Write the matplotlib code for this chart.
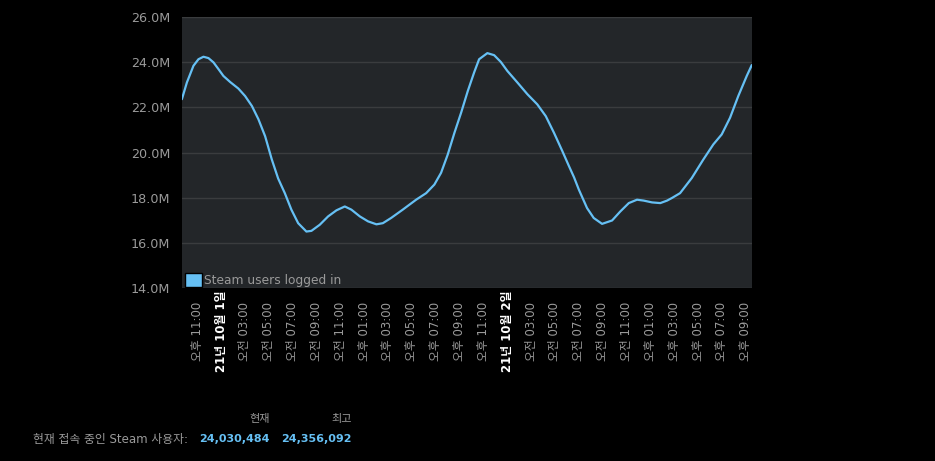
import matplotlib
matplotlib.use('Agg')
import matplotlib.pyplot as plt
from matplotlib.patches import Patch

###
# DATA (hours from 2021-10-01 00:00, users in millions)
###
HOURS = [-2.28, -1.86, -1.31, -0.89, -0.47, -0.05, 0.37, 0.79, 1.20, 1.77,
         2.46, 3.02, 3.59, 4.14, 4.70, 5.26, 5.79, 6.35, 6.90, 7.47,
         8.16, 8.58, 9.28, 9.98, 10.68, 11.38, 11.93, 12.64, 13.33, 14.03,
         14.57, 15.26, 16.24, 17.36, 18.20, 18.89, 19.45, 20.01, 20.57, 21.13,
         21.69, 22.22, 22.64, 23.33, 23.90, 24.46, 25.01, 25.85, 26.69, 27.52,
         28.23, 28.92, 29.62, 30.18, 30.60, 31.00, 31.69, 32.25, 32.95, 33.79,
         34.48, 35.19, 35.88, 36.44, 37.14, 37.83, 38.40, 38.82, 39.49, 40.47,
         41.44, 42.28, 42.98, 43.68, 44.37, 45.08, 45.50]
USERS = [22.36, 23.10, 23.84, 24.13, 24.24, 24.18, 23.99, 23.69, 23.39, 23.12,
         22.83, 22.50, 22.06, 21.47, 20.72, 19.69, 18.85, 18.20, 17.47, 16.87,
         16.50, 16.53, 16.80, 17.17, 17.44, 17.61, 17.47, 17.17, 16.95, 16.82,
         16.87, 17.10, 17.47, 17.91, 18.20, 18.58, 19.10, 19.91, 20.87, 21.76,
         22.72, 23.54, 24.13, 24.40, 24.31, 24.01, 23.61, 23.10, 22.58, 22.13,
         21.61, 20.87, 20.06, 19.39, 18.90, 18.36, 17.54, 17.10, 16.84, 16.99,
         17.39, 17.76, 17.91, 17.87, 17.79, 17.76, 17.87, 17.99, 18.20, 18.87,
         19.69, 20.36, 20.80, 21.54, 22.50, 23.39, 23.87]

TICK_HOURS = list(range(-1, 46, 2))
TICK_LABELS = ['오후 11:00', '21년 10월 1일',
               '오전 03:00', '오전 05:00', '오전 07:00', '오전 09:00', '오전 11:00',
               '오후 01:00', '오후 03:00', '오후 05:00', '오후 07:00', '오후 09:00',
               '오후 11:00', '21년 10월 2일',
               '오전 03:00', '오전 05:00', '오전 07:00', '오전 09:00', '오전 11:00',
               '오후 01:00', '오후 03:00', '오후 05:00', '오후 07:00', '오후 09:00']
DATE_LABELS = ['21년 10월 1일', '21년 10월 2일']
Y_TICKS = [14, 16, 18, 20, 22, 24, 26]

CURRENT = '24,030,484'
PEAK = '24,356,092'

###
# STYLE
###
FONTS = ['DejaVu Sans', 'Noto Sans CJK KR']
plt.rcParams['font.family'] = FONTS
BLUE = '#66c0f4'
GREY = '#9a9a9a'
PLOT_BG = '#232629'
GRID = '#3a3c3e'

fig = plt.figure(figsize=(9.35, 4.61), dpi=100, facecolor='black')
ax = fig.add_axes([182/935, 1-288/461, 570/935, 271/461])
ax.set_facecolor(PLOT_BG)

ax.plot(HOURS, USERS, color=BLUE, linewidth=1.6, solid_capstyle='round')

ax.set_xlim(-2.27, 45.52)
ax.set_ylim(14, 26)
ax.set_yticks(Y_TICKS)
ax.set_yticklabels(['%.1fM' % v for v in Y_TICKS])
ax.grid(axis='y', color=GRID, linewidth=1)
ax.set_axisbelow(True)
for s in ax.spines.values():
    s.set_visible(False)

ax.set_xticks(TICK_HOURS)
ax.set_xticklabels(TICK_LABELS, rotation=90)
ax.tick_params(axis='x', length=0, pad=31.5, labelsize=8.5, labelcolor=GREY)
ax.tick_params(axis='y', length=0, pad=8.6, labelsize=9.2, labelcolor=GREY)
for lbl in ax.get_xticklabels():
    lbl.set_va('center')
    if lbl.get_text() in DATE_LABELS:
        lbl.set_color('white')
        lbl.set_fontweight('bold')

ax.legend(handles=[Patch(facecolor=BLUE, edgecolor='black', linewidth=1)],
          labels=['Steam users logged in'],
          loc='lower left', bbox_to_anchor=(3/570, 1/271),
          frameon=False, fontsize=8.8, labelcolor=GREY,
          handlelength=1.35, handleheight=1.35, handletextpad=0.2,
          borderpad=0, borderaxespad=0)

# summary under the chart
fig.text(270/935, 1-419/461, '현재', color=GREY, fontsize=8, ha='right', va='center')
fig.text(352/935, 1-419/461, '최고', color=GREY, fontsize=8, ha='right', va='center')
fig.text(33/935, 1-439/461, '현재 접속 중인 Steam 사용자:', color=GREY,
         fontsize=8.5, ha='left', va='center')
fig.text(270/935, 1-439/461, CURRENT, color=BLUE, fontsize=8,
         fontweight='bold', ha='right', va='center')
fig.text(352/935, 1-439/461, PEAK, color=BLUE, fontsize=8,
         fontweight='bold', ha='right', va='center')

fig.savefig('out.png', dpi=100, facecolor='black')
